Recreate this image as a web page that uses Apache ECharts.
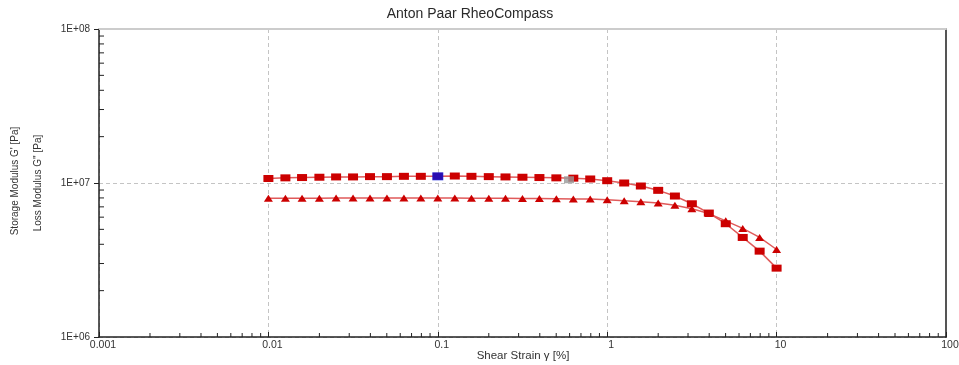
<!DOCTYPE html>
<html>
<head>
<meta charset="utf-8">
<script src="https://cdn.jsdelivr.net/npm/echarts@6/dist/echarts.min.js"></script>
<style>
  html, body { margin: 0; padding: 0; background: #ffffff; }
  #chart { width: 959px; height: 365px; }
</style>
</head>
<body>
<div id="chart"></div>
<script>
// ---- data ----
const titleText = 'Anton Paar RheoCompass';
const xAxisTitle = 'Shear Strain \u03b3 [%]';
const storageTitle = "Storage Modulus G' [Pa]";
const lossTitle = "Loss Modulus G'' [Pa]";

const strain = [0.01, 0.0126, 0.0158, 0.02, 0.0251, 0.0316, 0.0398, 0.0501, 0.0631, 0.0794,
                0.1, 0.126, 0.158, 0.2, 0.251, 0.316, 0.398, 0.501, 0.631, 0.794,
                1, 1.26, 1.58, 2, 2.51, 3.16, 3.98, 5.01, 6.31, 7.94, 10];
const storageModulus = [1.07e7, 1.08e7, 1.085e7, 1.09e7, 1.095e7, 1.095e7, 1.10e7, 1.10e7, 1.105e7, 1.105e7,
                        1.105e7, 1.11e7, 1.105e7, 1.10e7, 1.095e7, 1.09e7, 1.085e7, 1.08e7, 1.075e7, 1.062e7,
                        1.035e7, 1.0e7, 9.56e6, 8.96e6, 8.23e6, 7.33e6, 6.38e6, 5.44e6, 4.43e6, 3.61e6, 2.80e6];
const lossModulus = [7.95e6, 7.95e6, 7.96e6, 7.97e6, 7.98e6, 7.98e6, 7.99e6, 7.99e6, 7.99e6, 7.99e6,
                     7.98e6, 7.98e6, 7.97e6, 7.96e6, 7.95e6, 7.93e6, 7.92e6, 7.90e6, 7.88e6, 7.87e6,
                     7.78e6, 7.67e6, 7.55e6, 7.41e6, 7.16e6, 6.80e6, 6.33e6, 5.68e6, 5.07e6, 4.43e6, 3.70e6];
const highlightBlue = [[0.1, 1.105e7]];
const highlightGray = [[0.595, 1.05e7]];

const xTickLabels = { '0.001': '0.001', '0.01': '0.01', '0.1': '0.1', '1': '1', '10': '10', '100': '100' };
const yTickLabels = { '6': '1E+06', '7': '1E+07', '8': '1E+08' };
const minorMultipliers = [2, 3, 4, 5, 6, 7, 8, 9];
const xDecades = [0.001, 0.01, 0.1, 1, 10];
const yDecades = [1e6, 1e7];

// ---- build ----
const storagePts = strain.map((s, i) => [s, storageModulus[i]]);
const lossPts = strain.map((s, i) => [s, lossModulus[i]]);
const xMinor = [];
xDecades.forEach(d => minorMultipliers.forEach(m => xMinor.push([d * m, 1e6])));
const yMinor = [];
yDecades.forEach(d => minorMultipliers.forEach(m => yMinor.push([0.001, d * m])));

const red = '#cc0000';
const lineRed = '#e05a5a';
const labelFont = '"Liberation Sans", Arial, sans-serif';

const chart = echarts.init(document.getElementById('chart'), null, { renderer: 'canvas' });
chart.setOption({
  animation: false,
  backgroundColor: '#ffffff',
  grid: { left: 99, right: 13, top: 29, bottom: 28, containLabel: false, outerBoundsMode: 'none' },
  graphic: [
    { type: 'text', x: 470, y: 14, style: { text: titleText, font: '14px "Liberation Sans", Arial, sans-serif', fill: '#2a2a2a', align: 'center', verticalAlign: 'middle' } },
    { type: 'text', x: 15, y: 181, rotation: Math.PI / 2, style: { text: storageTitle, font: '10px "Liberation Sans Narrow", "Liberation Sans", Arial, sans-serif', fill: '#333', align: 'center', verticalAlign: 'middle' } },
    { type: 'text', x: 38, y: 183, rotation: Math.PI / 2, style: { text: lossTitle, font: '10px "Liberation Sans Narrow", "Liberation Sans", Arial, sans-serif', fill: '#333', align: 'center', verticalAlign: 'middle' } },
    { type: 'text', x: 523, y: 356, style: { text: xAxisTitle, font: '11.5px "Liberation Sans", Arial, sans-serif', fill: '#333', align: 'center', verticalAlign: 'middle' } }
  ],
  xAxis: [{
    type: 'log', logBase: 10, min: 0.001, max: 100,
    axisLine: { lineStyle: { color: '#222', width: 1.5 } },
    axisTick: { inside: true, length: 5, lineStyle: { color: '#222' } },
    axisLabel: {
      fontFamily: labelFont, fontSize: 10.5, color: '#333', margin: 3, padding: [0, 0, 0, 8],
      formatter: v => xTickLabels[String(+v.toPrecision(3))] || ''
    },
    splitLine: { show: true, lineStyle: { color: '#c4c4c4', type: [4, 3], width: 1 } }
  }, {
    type: 'log', logBase: 10, min: 0.001, max: 100, position: 'top',
    axisLine: { show: true, lineStyle: { color: '#cccccc', width: 2 } },
    axisTick: { show: false }, axisLabel: { show: false }, splitLine: { show: false }
  }],
  yAxis: [{
    type: 'log', logBase: 10, min: 1e6, max: 1e8,
    axisLine: { show: true, lineStyle: { color: '#222', width: 1.5 } },
    axisTick: { inside: false, length: 5, lineStyle: { color: '#222' } },
    axisLabel: {
      fontFamily: labelFont, fontSize: 10, color: '#333', margin: 9,
      formatter: v => yTickLabels[String(Math.round(Math.log10(v)))] || ''
    },
    splitLine: { show: true, lineStyle: { color: '#c4c4c4', type: [4, 3], width: 1 } }
  }, {
    type: 'log', logBase: 10, min: 1e6, max: 1e8, position: 'right',
    axisLine: { show: true, lineStyle: { color: '#555555', width: 2 } },
    axisTick: { show: false }, axisLabel: { show: false }, splitLine: { show: false }
  }],
  series: [
    {
      type: 'custom', name: 'xMinorTicks', data: xMinor, clip: false, silent: true, z: 5,
      renderItem: (params, api) => {
        const p = api.coord([api.value(0), api.value(1)]);
        return { type: 'line', shape: { x1: p[0], y1: p[1], x2: p[0], y2: p[1] - 4 }, style: { stroke: '#222', lineWidth: 1 } };
      }
    },
    {
      type: 'custom', name: 'yMinorTicks', data: yMinor, clip: false, silent: true, z: 5,
      renderItem: (params, api) => {
        const p = api.coord([api.value(0), api.value(1)]);
        return { type: 'line', shape: { x1: p[0], y1: p[1], x2: p[0] + 5, y2: p[1] }, style: { stroke: '#222', lineWidth: 1 } };
      }
    },
    {
      type: 'line', name: "G''", data: lossPts, symbol: 'triangle', symbolSize: [9, 7],
      itemStyle: { color: red }, lineStyle: { color: lineRed, width: 1.5 }, z: 3
    },
    {
      type: 'line', name: "G'", data: storagePts, symbol: 'rect', symbolSize: [10, 7],
      itemStyle: { color: red }, lineStyle: { color: lineRed, width: 1.5 }, z: 4
    },
    {
      type: 'scatter', name: 'sel', data: highlightBlue, symbol: 'rect', symbolSize: [11, 8],
      itemStyle: { color: '#0010dd' }, z: 6
    },
    {
      type: 'scatter', name: 'gray', data: highlightGray, symbol: 'rect', symbolSize: [10, 7],
      itemStyle: { color: '#999999' }, z: 6
    }
  ]
});
</script>
</body>
</html>
